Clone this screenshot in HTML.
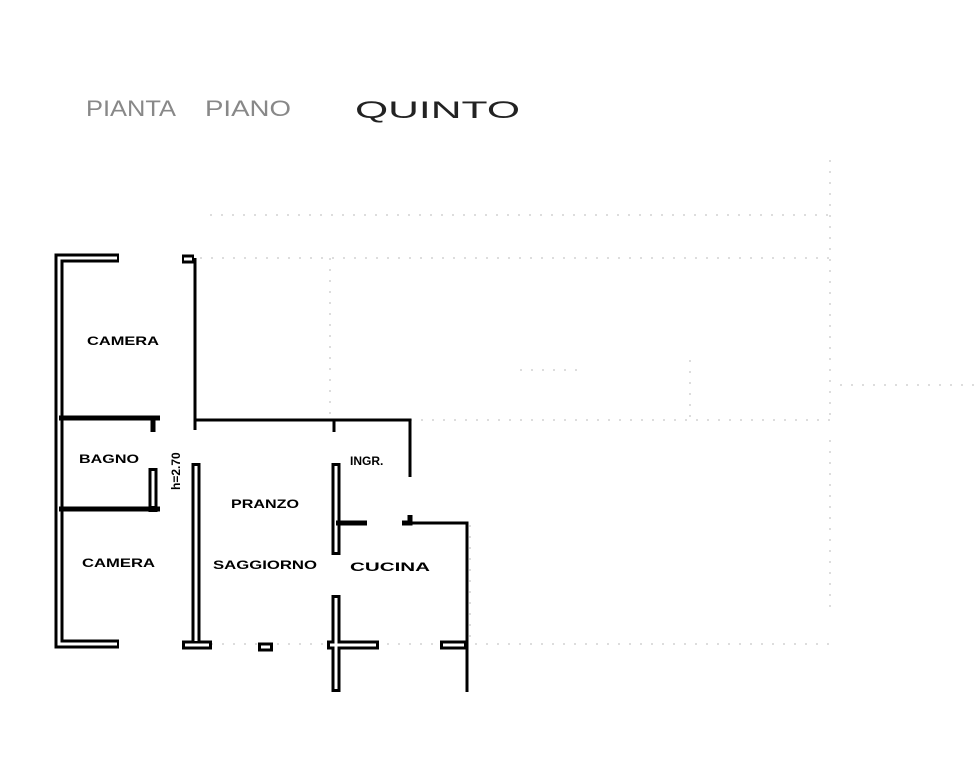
<!DOCTYPE html>
<html><head><meta charset="utf-8"><style>
html,body{margin:0;padding:0;background:#fff;}
svg{display:block}
text{font-family:"Liberation Sans",sans-serif;}
</style></head><body>
<svg width="976" height="760" viewBox="0 0 976 760" xmlns="http://www.w3.org/2000/svg">
<rect width="976" height="760" fill="#fff"/>
<text x="86" y="116" font-size="22" fill="#888" textLength="90" lengthAdjust="spacingAndGlyphs">PIANTA</text>
<text x="205" y="116" font-size="22" fill="#888" textLength="86" lengthAdjust="spacingAndGlyphs">PIANO</text>
<text x="355" y="118" font-size="24" fill="#222" textLength="165" lengthAdjust="spacingAndGlyphs">QUINTO</text>

<g fill="none" stroke="#bbb" stroke-width="1" stroke-dasharray="2 9">
<path d="M200,258 L830,258"/><path d="M210,215 L830,215"/><path d="M330,258 L330,420"/>
<path d="M830,160 L830,420"/><path d="M410,420 L830,420"/><path d="M200,644 L830,644"/>
<path d="M470,525 L470,640"/><path d="M830,440 L830,610"/><path d="M840,385 L976,385"/>
<path d="M690,360 L690,420"/><path d="M520,370 L580,370"/>
</g>

<g fill="none" stroke-linejoin="miter" stroke-linecap="butt">
<g stroke="#000" stroke-width="9">
<path d="M119,258 L59,258 L59,644 L119,644"/>
<path d="M182,259 L194,259"/>
<path d="M196,463 L196,644"/>
<path d="M182,645 L212,645"/>
<path d="M258,647 L273,647"/>
<path d="M327,645 L379,645"/>
<path d="M336,595 L336,692"/>
<path d="M336,463 L336,555"/>
<path d="M153,468 L153,512"/>
<path d="M440,645 L467,645"/>
</g>
<g stroke="#fff" stroke-width="3">
<path d="M117,258 L59,258 L59,644 L117,644"/>
<path d="M184,259 L192,259"/>
<path d="M196,466 L196,641"/>
<path d="M185,645 L209,645"/>
<path d="M261,647 L270,647"/>
<path d="M330,645 L376,645"/>
<path d="M336,598 L336,689"/>
<path d="M336,466 L336,552"/>
<path d="M153,471 L153,506"/>
<path d="M443,645 L464,645"/>
</g>
<g stroke="#000" stroke-width="3">
<path d="M195,258 L195,430"/>
<path d="M195,420 L410,420 L410,477"/>
<path d="M334,420 L334,432"/>
<path d="M402,523 L467,523 L467,692"/>
</g>
<g stroke="#000" stroke-width="5">
<path d="M59,418 L160,418"/>
<path d="M153,418 L153,432"/>
<path d="M59,509 L160,509"/>
<path d="M336,523 L367,523"/>
<path d="M402,523 L410,523 L410,515"/>
</g>
</g>

<g font-size="12" fill="#000" font-weight="bold">
<text x="87" y="345" textLength="72" lengthAdjust="spacingAndGlyphs">CAMERA</text>
<text x="79" y="463" textLength="60" lengthAdjust="spacingAndGlyphs">BAGNO</text>
<text x="82" y="567" textLength="73" lengthAdjust="spacingAndGlyphs">CAMERA</text>
<text x="231" y="508" textLength="68" lengthAdjust="spacingAndGlyphs">PRANZO</text>
<text x="213" y="569" textLength="104" lengthAdjust="spacingAndGlyphs">SAGGIORNO</text>
<text x="350" y="571" textLength="80" lengthAdjust="spacingAndGlyphs">CUCINA</text>
<text x="350" y="465">INGR.</text>
<text x="0" y="0" transform="translate(180,490) rotate(-90)" font-size="12">h=2.70</text>
</g>
</svg>
</body></html>
